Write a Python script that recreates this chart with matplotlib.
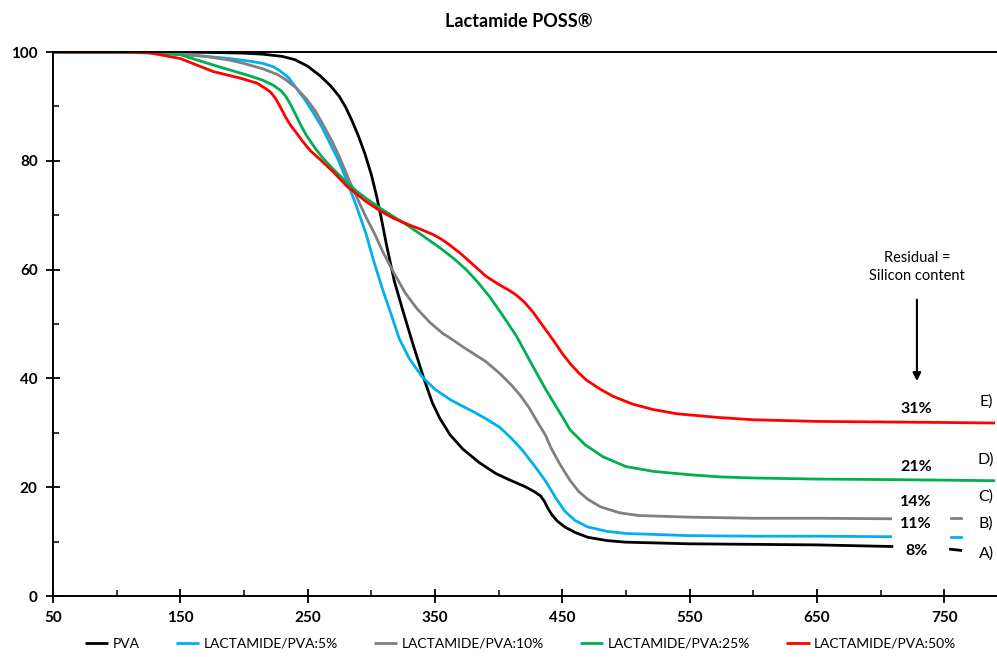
import matplotlib.pyplot as plt

plt.rcParams['font.family'] = ['Lato', 'DejaVu Sans']

# temperature (x) and residual weight % (y)
pva_x = [50, 100, 150, 180, 200, 215, 230, 240, 250, 260, 268, 275, 280, 285, 290, 295, 300, 304, 308,
         312, 318, 325, 333, 341, 348, 354, 362, 372, 385, 398, 409, 420, 428, 433, 436, 439, 442, 446,
         452, 460, 470, 485, 500, 550, 600, 650, 710]
pva_y = [100, 100, 100, 99.9, 99.8, 99.6, 99.2, 98.6, 97.4, 95.6, 93.8, 91.8, 89.8, 87.3, 84.5, 81.3,
         77.5, 73.7, 69.3, 64.5, 58.0, 52.3, 46.1, 40.2, 35.5, 32.6, 29.6, 27.0, 24.5, 22.5, 21.3, 20.2,
         19.2, 18.4, 17.4, 16.0, 14.9, 13.8, 12.7, 11.7, 10.8, 10.2, 9.9, 9.6, 9.5, 9.4, 9.1]

p5_x = [50, 100, 130, 150, 170, 189, 205, 215, 223, 228, 235, 241, 248, 254, 261, 267, 274, 280, 288,
        296, 302, 309, 316, 322, 330, 340, 350, 362, 370, 380, 390, 401, 410, 418, 428, 437, 445, 452,
        460, 470, 485, 500, 550, 600, 650, 709]
p5_y = [100, 100, 99.9, 99.6, 99.2, 98.8, 98.3, 97.9, 97.3, 96.6, 95.3, 93.4, 91.2, 89.0, 86.3, 83.5,
        80.2, 76.8, 71.9, 66.5, 61.5, 56.3, 51.5, 47.3, 43.6, 40.3, 38.0, 36.1, 35.1, 33.9, 32.6, 31.0,
        29.0, 27.0, 24.0, 21.1, 18.0, 15.6, 13.9, 12.7, 11.9, 11.5, 11.1, 11.0, 11.0, 10.9]

p10_x = [50, 100, 150, 170, 189, 200, 215, 226, 233, 241, 249, 256, 262, 269, 275, 283, 290, 296, 303,
         309, 318, 327, 336, 346, 356, 364, 372, 380, 390, 401, 410, 417, 424, 431, 437, 441, 448, 456,
         463, 470, 480, 495, 510, 550, 600, 650, 709]
p10_y = [100, 100, 99.6, 99.2, 98.5, 97.9, 96.9, 95.9, 94.9, 93.4, 91.4, 89.2, 86.7, 83.7, 80.7, 76.2,
         72.6, 69.6, 66.4, 63.3, 59.3, 55.6, 52.8, 50.3, 48.3, 47.1, 45.8, 44.6, 43.1, 40.9, 38.8, 36.9,
         34.6, 31.8, 29.5, 27.3, 24.3, 21.3, 19.2, 17.8, 16.4, 15.3, 14.8, 14.5, 14.3, 14.3, 14.2]

p25_x = [50, 100, 130, 150, 176, 202, 215, 223, 229, 233, 237, 241, 245, 249, 256, 262, 270, 280, 288,
         296, 307, 317, 328, 340, 354, 365, 375, 384, 393, 402, 414, 427, 437, 444, 451, 456, 468, 482,
         500, 522, 550, 574, 600, 650, 709, 790]
p25_y = [100, 100, 99.9, 99.5, 97.6, 95.8, 94.8, 93.9, 92.9, 91.8, 90.2, 88.3, 86.4, 84.7, 82.3, 80.5,
         78.5, 76.2, 74.5, 73.1, 71.3, 69.8, 68.2, 66.3, 64.0, 62.0, 59.9, 57.6, 55.0, 52.0, 47.8, 42.2,
         38.0, 35.3, 32.6, 30.6, 27.8, 25.6, 23.8, 22.9, 22.3, 21.9, 21.7, 21.5, 21.4, 21.2]

p50_x = [50, 100, 125, 150, 176, 197, 210, 217, 221, 225, 229, 233, 237, 241, 246, 252, 260, 270, 281,
         296, 307, 317, 330, 340, 349, 355, 360, 370, 381, 390, 400, 409, 414, 420, 427, 435, 443, 450,
         456, 463, 469, 480, 490, 505, 521, 540, 574, 600, 650, 700, 750, 790]
p50_y = [100, 100, 99.9, 98.8, 96.4, 95.2, 94.3, 93.3, 92.6, 91.4, 89.7, 87.9, 86.4, 85.2, 83.6, 81.9,
         80.2, 78.0, 75.3, 72.5, 70.8, 69.5, 68.2, 67.3, 66.4, 65.6, 64.8, 63.0, 60.7, 58.8, 57.3, 56.1,
         55.3, 54.1, 52.2, 49.6, 47.0, 44.6, 42.8, 41.0, 39.7, 38.0, 36.7, 35.3, 34.3, 33.5, 32.8, 32.4,
         32.1, 32.0, 31.9, 31.8]

# short stubs next to the A)/B)/C) labels
stub_x = [755, 763]
stub_pva = [8.6, 8.4]
stub_p5 = [10.9, 10.9]
stub_p10 = [14.3, 14.3]

residuals = ['31%', '21%', '14%', '11%', '8%']
residual_y = [34.3, 23.7, 17.2, 13.2, 8.3]
letters = ['E)', 'D)', 'C)', 'B)', 'A)']
letter_y = [35.7, 25.0, 18.3, 13.4, 7.8]

names = ['PVA', 'LACTAMIDE/PVA:5%', 'LACTAMIDE/PVA:10%', 'LACTAMIDE/PVA:25%', 'LACTAMIDE/PVA:50%']
colors = ['#000000', '#00B0F0', '#808080', '#00B050', '#FF0000']

fig = plt.figure(figsize=(9.97, 6.57), dpi=100)
ax = fig.add_axes([53 / 997, 0.0928, 944 / 997, 0.828])

series = [(pva_x, pva_y), (p5_x, p5_y), (p10_x, p10_y), (p25_x, p25_y), (p50_x, p50_y)]
for (xs, ys), name, c in zip(series, names, colors):
    ax.plot(xs, ys, color=c, lw=2, label=name, solid_capstyle='butt', solid_joinstyle='round')

ax.plot(stub_x, stub_pva, color=colors[0], lw=2)
ax.plot(stub_x, stub_p5, color=colors[1], lw=2)
ax.plot(stub_x, stub_p10, color=colors[2], lw=2)

for t, y in zip(residuals, residual_y):
    ax.text(728, y, t, ha='center', va='center', fontsize=11.5, fontweight='bold')
for t, y in zip(letters, letter_y):
    ax.text(783, y, t, ha='center', va='center', fontsize=11.5)

ax.text(728.6, 60.5, 'Residual =\nSilicon content', ha='center', va='center', fontsize=10.5,
        linespacing=1.3)
ax.annotate('', xy=(728.6, 39), xytext=(728.6, 55),
            arrowprops=dict(arrowstyle='-|>', color='black', lw=1.5, mutation_scale=12))

ax.set_xlim(50, 791.5)
ax.set_ylim(0, 100)
ax.set_xticks(range(50, 751, 100))
ax.set_xticks(range(100, 791, 100), minor=True)
ax.set_yticks(range(0, 101, 20))
ax.set_yticks(range(10, 100, 20), minor=True)
ax.tick_params(which='major', direction='inout', length=10, width=1.3, labelsize=11, pad=6)
ax.tick_params(which='minor', direction='in', length=4, width=1.1)
for lab in ax.get_xticklabels() + ax.get_yticklabels():
    lab.set_fontweight('bold')

ax.spines['right'].set_visible(False)
for s in ['left', 'bottom', 'top']:
    ax.spines[s].set_linewidth(1.4)

fig.text(0.52, 0.968, 'Lactamide POSS®', ha='center', va='center', fontsize=13, fontweight='bold')

fig.legend(loc='lower center', bbox_to_anchor=(0.522, -0.008), ncol=5, frameon=False, fontsize=10,
           handlelength=1.7, handletextpad=0.3, columnspacing=2.6)

fig.savefig('out.png', dpi=100)
